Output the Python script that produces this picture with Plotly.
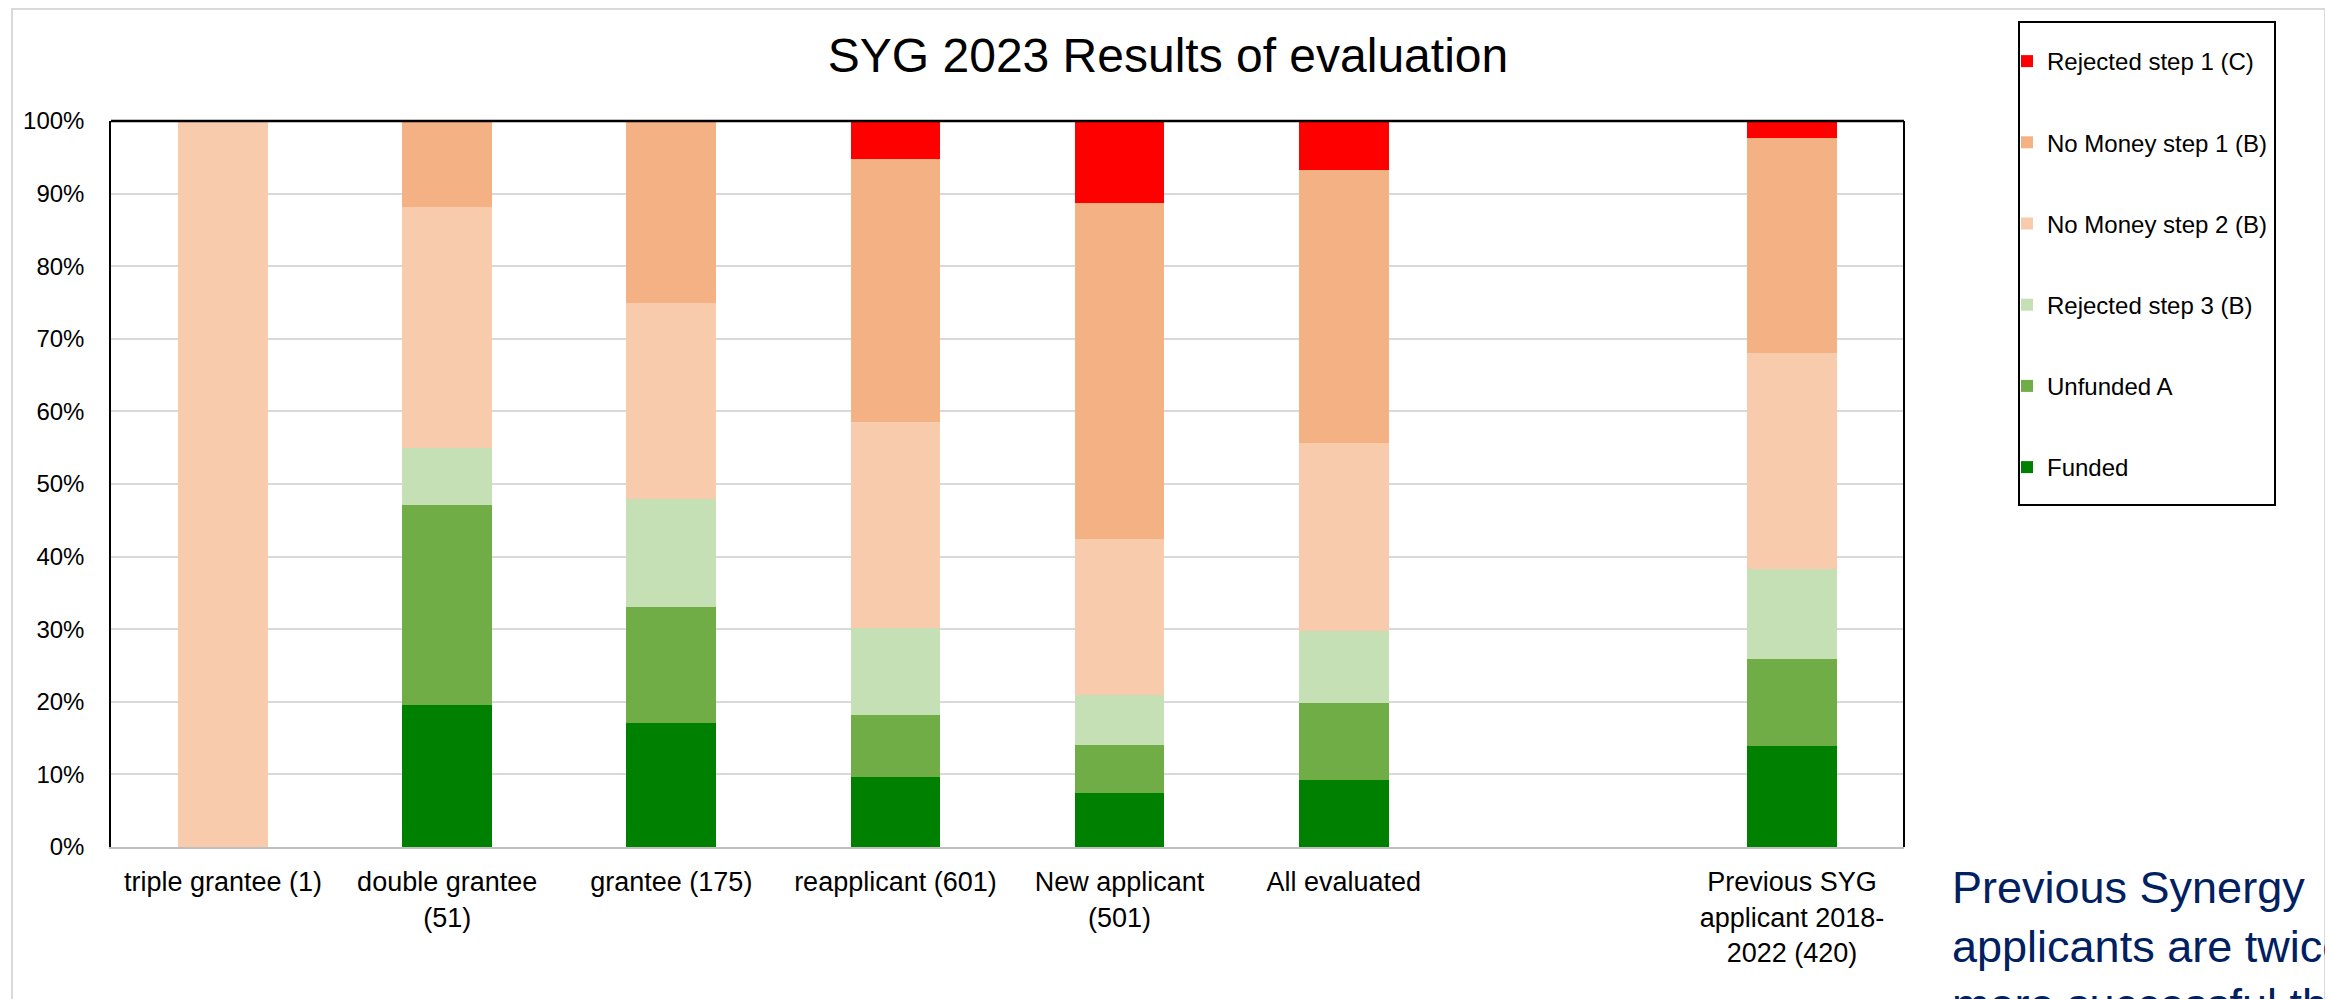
import plotly.graph_objects as go

categories = ["triple grantee (1)", "double grantee<br>(51)", "grantee (175)",
              "reapplicant (601)", "New applicant<br>(501)", "All evaluated",
              "Previous SYG<br>applicant 2018-<br>2022 (420)"]
axis_order = categories[:6] + [" "] + categories[6:]

funded = [0, 19.6, 17.1, 9.6, 7.4, 9.2, 13.9]
unfunded_a = [0, 27.5, 16.0, 8.6, 6.7, 10.7, 12.0]
rejected_3 = [0, 7.8, 14.9, 11.9, 6.8, 9.8, 12.4]
no_money_2 = [100, 33.3, 26.9, 28.5, 21.5, 26.0, 29.8]
no_money_1 = [0, 11.8, 25.1, 36.1, 46.3, 37.6, 29.6]
rejected_1 = [0, 0, 0, 5.3, 11.3, 6.7, 2.3]

series = [
    ("Funded", funded, "#008000"),
    ("Unfunded A", unfunded_a, "#70AD47"),
    ("Rejected step 3 (B)", rejected_3, "#C5E0B4"),
    ("No Money step 2 (B)", no_money_2, "#F8CBAD"),
    ("No Money step 1 (B)", no_money_1, "#F4B183"),
    ("Rejected step 1 (C)", rejected_1, "#FF0000"),
]

FONT = "Arial, Liberation Sans, sans-serif"

fig = go.Figure()
n = len(series)
for i, (name, vals, col) in enumerate(series):
    fig.add_trace(go.Bar(x=categories, y=vals, name=name, legendgroup=name,
                         legendrank=n - i,
                         marker=dict(color=col, line=dict(width=0))))

# page body adds an 8px offset; work in reference pixel coordinates
O = 8
W, H = 2333 - O, 999 - O
PL, PR, PT, PB = 111 - O, 1904 - O, 121 - O, 847 - O
L, R, T, B = PL, W - PR, PT, H - PB
pw, ph = PR - PL, PB - PT

def px_x(p):
    return (p - O - PL) / pw

def px_y(p):
    return (PB - (p - O)) / ph

fig.update_layout(
    width=W, height=H,
    margin=dict(l=L, r=R, t=T, b=B, autoexpand=False),
    barmode="stack", bargap=0.6,
    paper_bgcolor="white", plot_bgcolor="white",
    font=dict(family=FONT, color="black"),
    title=dict(text="SYG 2023 Results of evaluation", x=(1168 - O) / W, xref="container",
               y=1 - (55 - O) / H, yref="container", xanchor="center", yanchor="middle",
               font=dict(size=48, family=FONT, color="black")),
    xaxis=dict(type="category", categoryorder="array", categoryarray=axis_order,
               range=[-0.5, 7.5], showgrid=False, showline=True,
               linecolor="#BFBFBF", linewidth=2, ticks="", ticklabelstandoff=10,
               tickfont=dict(size=27, family=FONT, color="black")),
    yaxis=dict(range=[0, 100], dtick=10, ticksuffix="%", showgrid=True,
               gridcolor="#D9D9D9", gridwidth=2, zeroline=False,
               showline=True, linecolor="black", linewidth=1.5, ticks="",
               ticklabelstandoff=20,
               tickfont=dict(size=24, family=FONT, color="black")),
    legend=dict(x=px_x(2007), y=px_y(39), xanchor="left", yanchor="top",
                traceorder="grouped", tracegroupgap=47,
                borderwidth=0, bgcolor="rgba(0,0,0,0)",
                font=dict(size=24, family=FONT, color="black")),
    showlegend=True,
)

# plot frame top and right edges
fig.add_shape(type="line", xref="paper", yref="paper", x0=0, x1=1, y0=1, y1=1,
              line=dict(color="black", width=2.5), layer="above")
fig.add_shape(type="line", xref="paper", yref="paper", x0=1, x1=1, y0=0, y1=1,
              line=dict(color="black", width=2), layer="above")
# legend frame
fig.add_shape(type="rect", xref="paper", yref="paper",
              x0=px_x(2019), x1=px_x(2275), y0=px_y(505), y1=px_y(22),
              line=dict(color="black", width=2), fillcolor="white", layer="below")
# slide frame
fig.add_shape(type="rect", xref="paper", yref="paper",
              x0=px_x(12), x1=px_x(2325), y0=px_y(1300), y1=px_y(9),
              line=dict(color="#D9D9D9", width=2), layer="below")

fig.add_annotation(text="Previous Synergy<br>applicants are twice<br>more successful than",
                   xref="paper", yref="paper", x=px_x(1950), y=px_y(860),
                   xanchor="left", yanchor="top", align="left", showarrow=False,
                   font=dict(size=45, family=FONT, color="#002060"))

fig.write_html("out.html")
